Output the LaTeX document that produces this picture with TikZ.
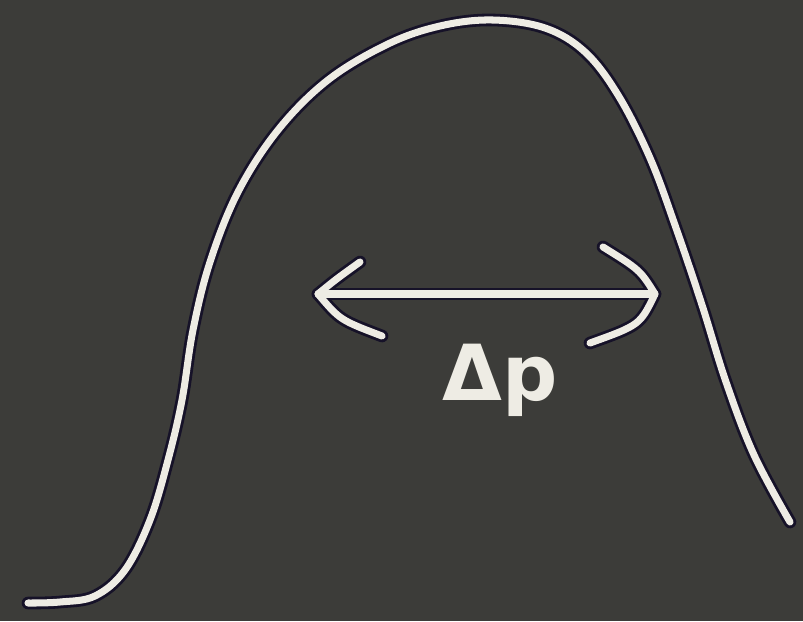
\documentclass[tikz,border=0pt]{standalone}
\usepackage{fontspec}
\setsansfont{DejaVu Sans}
\definecolor{board}{RGB}{60,60,57}
\definecolor{chalk}{RGB}{238,236,228}
\definecolor{halo}{RGB}{22,18,40}
\begin{document}
\begin{tikzpicture}[x=0.1mm,y=-0.1mm,
  haloline/.style={draw=halo,line width=3.6pt,line cap=round,line join=round},
  chalkline/.style={draw=chalk,line width=2pt,line cap=round,line join=round},
  label/.style={text=chalk,font=\sffamily\bfseries\fontsize{22}{22}\selectfont,inner sep=0pt}]
\useasboundingbox (0,0) rectangle (803,621);
\fill[board] (0,0) rectangle (803,621);
% bell curve
\def\bell{plot[smooth,tension=0.6] coordinates {(28,603) (60,602) (95,596) (125,570) (150,520) (168,460) (182,400) (193,330) (210,262) (238,192) (278,130) (328,80) (388,44) (440,26) (492,20) (545,28) (585,52) (618,95) (650,158) (676,228) (702,305) (726,382) (754,455) (790,522)}}
\draw[haloline] \bell;
\draw[chalkline] \bell;
% arrow
\coordinate (L) at (318,294);
\coordinate (R) at (655,294);
\coordinate (L1) at (360,262);
\coordinate (L2) at (382,336);
\coordinate (R1) at (603,247);
\coordinate (R2) at (590,343);
\foreach \s in {haloline,chalkline}{
  \draw[\s] (L) -- (R);
  \draw[\s] (L1) .. controls (335,280) .. (L) .. controls (340,320) .. (L2);
  \draw[\s] (R1) .. controls (640,270) .. (R) .. controls (640,325) .. (R2);
}
\node[label] (dp) at (500,380) {Δp};
\end{tikzpicture}
\end{document}
